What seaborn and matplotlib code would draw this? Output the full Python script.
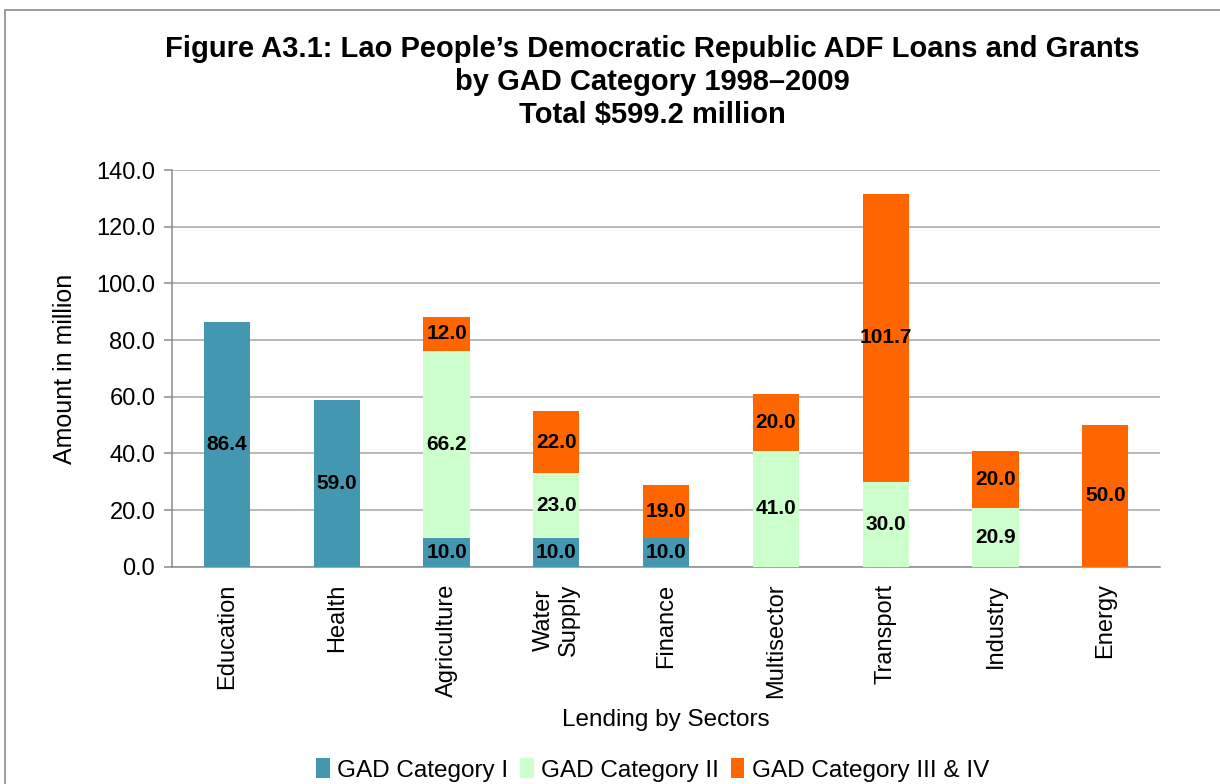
import pandas as pd
import matplotlib.pyplot as plt
import seaborn as sns
from matplotlib.patches import Patch, Rectangle

# dados
setores = ['Education', 'Health', 'Agriculture', 'Water\nSupply', 'Finance',
           'Multisector', 'Transport', 'Industry', 'Energy']
cat_1 = [86.4, 59.0, 10.0, 10.0, 10.0, 0.0, 0.0, 0.0, 0.0]
cat_2 = [0.0, 0.0, 66.2, 23.0, 0.0, 41.0, 30.0, 20.9, 0.0]
cat_3_4 = [0.0, 0.0, 12.0, 22.0, 19.0, 20.0, 101.7, 20.0, 50.0]
series_nomes = ['GAD Category I', 'GAD Category II', 'GAD Category III & IV']
cores = ['#4397B0', '#CCFFCC', '#FF6600']

df = pd.DataFrame({'setor': setores, 'c1': cat_1, 'c2': cat_2, 'c3': cat_3_4})

sns.set_style('white')
plt.rcParams['font.family'] = ['Liberation Sans', 'DejaVu Sans']
plt.rcParams['text.color'] = 'black'
plt.rcParams['axes.labelcolor'] = 'black'
plt.rcParams['xtick.color'] = 'black'
plt.rcParams['ytick.color'] = 'black'

fig = plt.figure(figsize=(12.2, 7.84), dpi=100)
ax = fig.add_axes([0.141, 0.277, 0.81, 0.506])

# moldura cinza do grafico
fig.patches.append(Rectangle((0.004, -0.1), 1.2, 1.087, transform=fig.transFigure,
                             fill=False, edgecolor='#8C8C8C', linewidth=1.2))

base = [0.0] * len(setores)
for col, cor in zip(['c1', 'c2', 'c3'], cores):
    sns.barplot(data=df, x='setor', y=col, color=cor, bottom=base, width=0.42,
                saturation=1, ax=ax, zorder=3, linewidth=0)
    for i, v in enumerate(df[col]):
        if v > 0:
            ax.text(i, base[i] + v / 2, f'{v:.1f}', ha='center', va='center',
                    fontsize=15, fontweight='bold', zorder=4)
    base = [b + v for b, v in zip(base, df[col])]

ax.set_ylim(0, 140)
ax.set_xlim(-0.5, len(setores) - 0.5)
ax.set_yticks(range(0, 141, 20))
ax.set_yticklabels([f'{v:.1f}' for v in range(0, 141, 20)], fontsize=17)
ax.yaxis.grid(True, color='#A6A6A6', linewidth=1.1, zorder=0)
ax.set_axisbelow(True)

ax.set_xticks(range(len(setores)))
ax.set_xticklabels(setores, rotation=90, fontsize=17)
ax.set_xticks([i - 0.5 for i in range(len(setores) + 1)], minor=True)
ax.tick_params(axis='x', which='major', length=0, pad=12)
ax.tick_params(axis='x', which='minor', length=8, color='#8C8C8C', width=1.1)
ax.tick_params(axis='y', which='major', length=6, color='#8C8C8C', width=1.1, left=True, pad=6)

for s in ['top', 'right']:
    ax.spines[s].set_visible(False)
for s in ['left', 'bottom']:
    ax.spines[s].set_color('#8C8C8C')
    ax.spines[s].set_linewidth(1.1)

ax.set_xlabel('Lending by Sectors', fontsize=17.5, labelpad=8)
ax.set_ylabel('Amount in million', fontsize=18, labelpad=14)

fig.text(0.535, 0.895, "Figure A3.1: Lao People\u2019s Democratic Republic ADF Loans and Grants\n"
         "by GAD Category 1998\u20132009\nTotal $599.2 million",
         ha='center', va='center', fontsize=21, fontweight='bold', linespacing=1.22)

handles = [Patch(facecolor=c, edgecolor='none') for c in cores]
fig.legend(handles, series_nomes, loc='center', bbox_to_anchor=(0.535, 0.018), ncol=3,
           frameon=False, fontsize=17.5, handlelength=0.55, handleheight=0.9,
           handletextpad=0.3, columnspacing=0.5)

fig.savefig('out.png', dpi=100)
